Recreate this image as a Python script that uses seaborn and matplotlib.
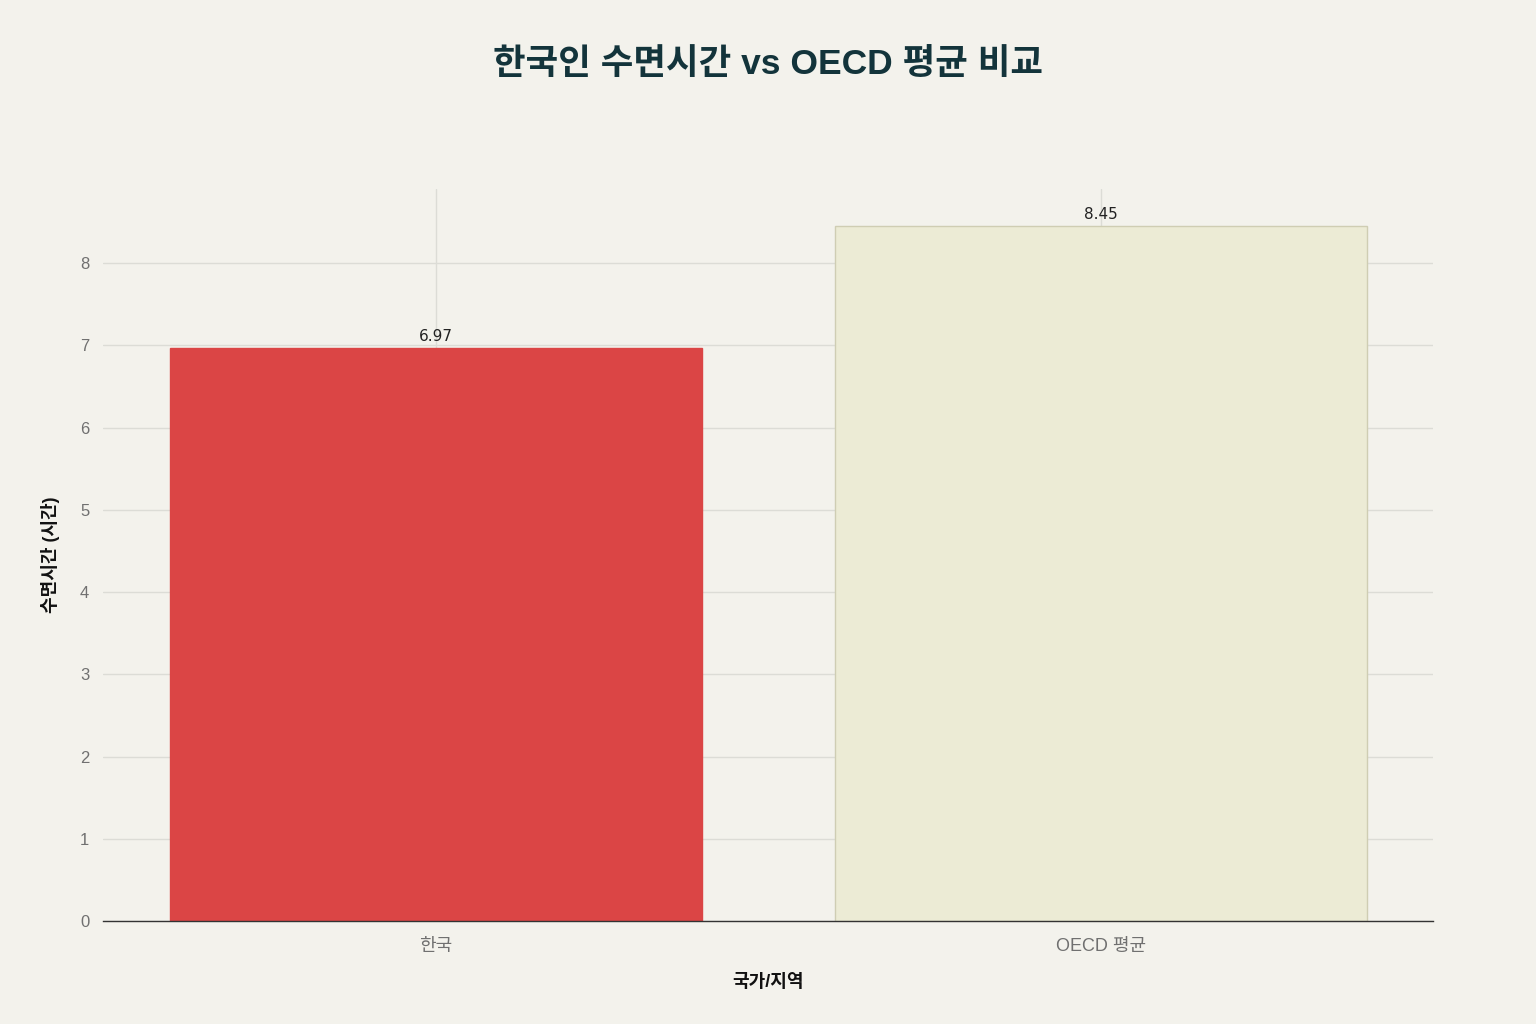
import matplotlib
matplotlib.use("Agg")
import matplotlib.pyplot as plt
import seaborn as sns
import pandas as pd

# data
regions = ["한국", "OECD 평균"]
sleep_hours = [6.97, 8.45]
bar_colors = ["#DB4545", "#ECEBD5"]
edge_colors = ["#DB4545", "#CFCDB3"]
y_ticks = [0, 1, 2, 3, 4, 5, 6, 7, 8]

bg = "#F3F2EC"
sns.set_theme(style="white")
# Latin glyphs from Liberation Sans, Hangul falls back to Noto CJK
plt.rcParams['font.family'] = ['Liberation Sans', 'Noto Sans CJK KR', 'DejaVu Sans']

df = pd.DataFrame({"region": regions, "hours": sleep_hours})

fig = plt.figure(figsize=(15.36, 10.24), dpi=100, facecolor=bg)
ax = fig.add_axes([0.0671, 0.1006, 0.866, 0.7148])
ax.set_facecolor(bg)

sns.barplot(data=df, x="region", y="hours", hue="region", palette=bar_colors,
            width=0.8, saturation=1, legend=False, ax=ax, zorder=3)
for patch, ec in zip(ax.patches, edge_colors):
    patch.set_edgecolor(ec)
    patch.set_linewidth(1)

ax.set_xlim(-0.5, 1.5)
ax.set_ylim(0, 8.9)
ax.set_yticks(y_ticks)
ax.grid(True, axis="both", color="#DCDCD6", linewidth=1, zorder=0)
for s in ["top", "right", "left"]:
    ax.spines[s].set_visible(False)
ax.spines["bottom"].set_color("#333333")
ax.spines["bottom"].set_linewidth(1)
ax.spines["bottom"].set_zorder(4)

ax.tick_params(axis="y", length=0, pad=10, labelsize=12, labelcolor="#707070")
ax.tick_params(axis="x", length=0, pad=12, labelsize=13, labelcolor="#707070")

for i, v in enumerate(sleep_hours):
    ax.text(i, v + 0.05, f"{v:.2f}", ha="center", va="bottom", fontsize=11,
            color="#222222", family=["DejaVu Sans"], zorder=5)

ax.set_xlabel("국가/지역", fontsize=13, fontweight="bold", color="#111111", labelpad=14)
ax.set_ylabel("수면시간 (시간)", fontsize=13, fontweight="bold", color="#111111", labelpad=14)

fig.text(0.5, 0.937, "한국인 수면시간 vs OECD 평균 비교", ha="center", va="center",
         fontsize=25.5, fontweight="bold", color="#13343B")

fig.savefig("out.png", dpi=100, facecolor=bg)
